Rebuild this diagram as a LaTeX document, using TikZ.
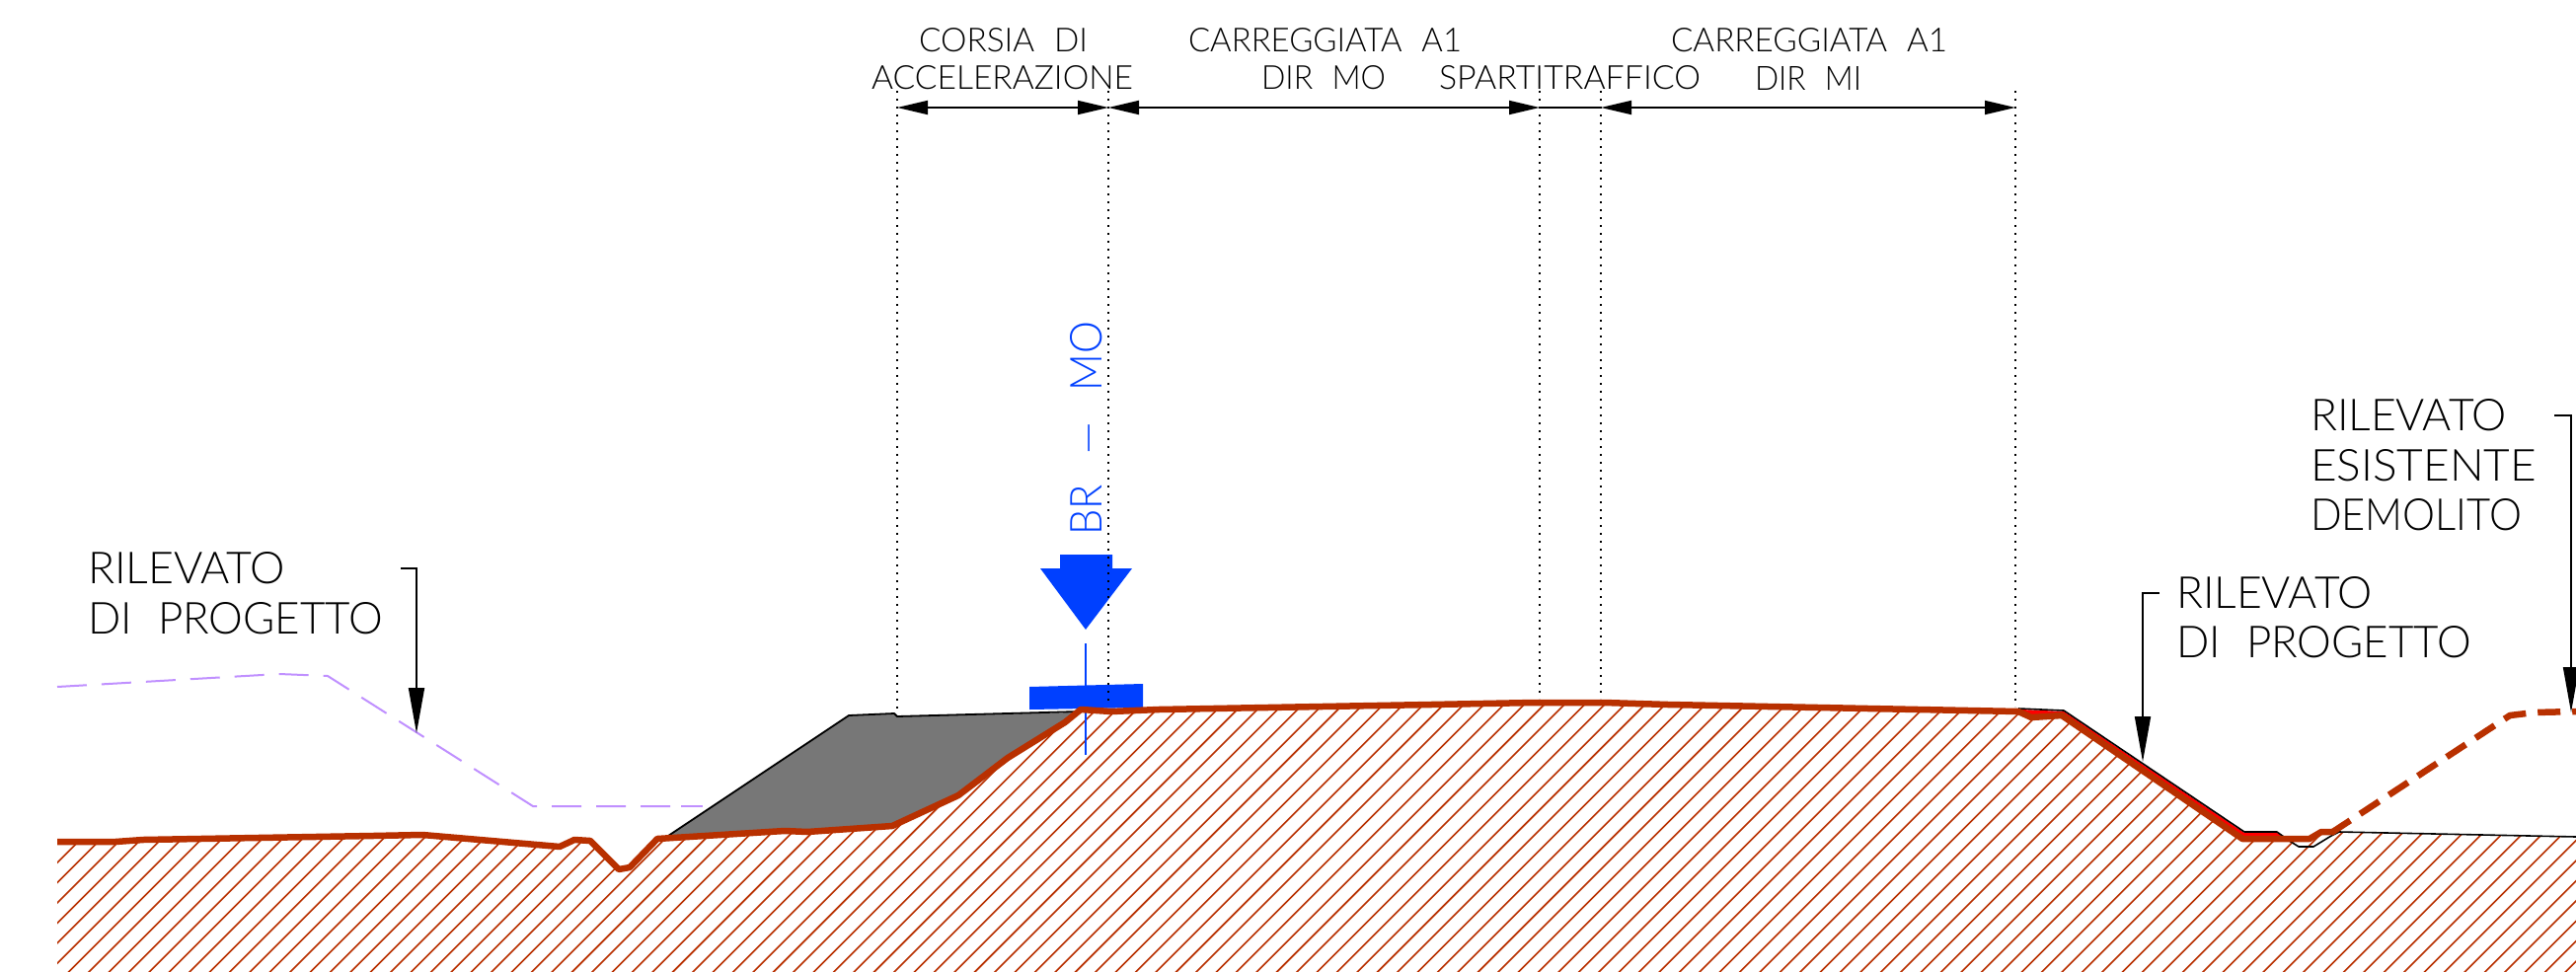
\documentclass[tikz,border=0pt]{standalone}
\usepackage{fontspec}
\usepackage{graphicx}
\usetikzlibrary{arrows.meta}
\newfontfamily\cadf{Lato Light}
\definecolor{soil}{HTML}{B83000}
\definecolor{bluemark}{HTML}{0040FF}
\definecolor{lilac}{HTML}{C090FF}
\definecolor{fillgray}{HTML}{777777}
\newcommand\cadtext[3]{\resizebox{#1pt}{#2pt}{\cadf #3}}
\newcommand\gap{\hspace{0.6em}}
\tikzset{
  lab/.style={anchor=south west,inner sep=0pt,outer sep=0pt,text=black},
  dimline/.style={line width=1.8pt,{Triangle[length=31pt,width=14pt]}-{Triangle[length=31pt,width=14pt]}},
  dimend/.style={line width=2.2pt,dash pattern=on 2.2pt off 5.8pt,line cap=butt},
  leader/.style={line width=1.8pt,-{Triangle[length=46pt,width=16pt]}},
  soilline/.style={soil,line width=6.5pt,line join=round},
  hatchline/.style={soil,line width=1.6pt},
}
\begin{document}
\begin{tikzpicture}[x=1pt,y=-1pt]
\useasboundingbox[fill=white] (0,0) rectangle (2610,985);
% hatching
\begin{scope}
\clip (58,853)--(117,853)--(145,851)--(378,847)--(428,846)--(567,858)--(582,851)--(598,852)--(627,881)--(638,879)--(666,850)--(795,842)--(818,843)--(904,837)--(971,806)--(1021,768)--(1079,732)--(1095,719)--(1126,721)--(1174,719)--(1450,714)--(1555,712)--(1625,712)--(1690,714)--(2045,721)--(2058,727)--(2089,725)--(2272,850)--(2340,850)--(2352,843)--(2370,843)--(2610,848)--(2610,985)--(58,985)--cycle;
\foreach \k in {0,...,146} {
  \pgfmathsetmacro\s{2095-1428+\k*20.4}
  \draw[hatchline] (\s-1000,1000)--(\s,0);
}
\end{scope}
% fill of the added embankment
\fill[fillgray] (677,847)--(860,725)--(906,723)--(909,726)--(1088,722)--(1095,719)--(1079,732)--(1021,768)--(971,806)--(904,837)--(818,843)--(795,842)--(666,850)--cycle;
\draw[black,line width=1.8pt,line join=round] (677,847)--(860,725)--(906,723)--(909,726)--(1095,721);
% design embankment, lilac
\draw[lilac,line width=2pt,dash pattern=on 30pt off 15pt] (58,696)--(283,683)--(332,685)--(540,817)--(690,817);
\draw[lilac,line width=2pt] (690,817)--(712,817);
% blue mark
\fill[bluemark] (1043,696)--(1158,693)--(1158,717)--(1043,719)--cycle;
\fill[bluemark] (1074,562)--(1127,562)--(1127,576)--(1147,576)--(1100,638)--(1054,576)--(1074,576)--cycle;
\coordinate (bluetop) at (1100,652);
\coordinate (bluebot) at (1100,765);
\draw[bluemark,line width=2.2pt] (bluetop)--(bluebot);
\node[anchor=south west,inner sep=0pt,text=bluemark,rotate=90] (brmo) at (1117,543) {\cadtext{217}{32}{BR\hspace{0.75em}—\hspace{0.75em}MO}};
% dimension extension lines
\coordinate (d1t) at (909,92);  \coordinate (d1b) at (909,718);
\coordinate (d2t) at (1123,92); \coordinate (d2b) at (1123,710);
\coordinate (d3t) at (1560,92); \coordinate (d3b) at (1560,708);
\coordinate (d4t) at (1622,92); \coordinate (d4b) at (1622,708);
\coordinate (d5t) at (2042,92); \coordinate (d5b) at (2042,716);
\foreach \n in {1,...,5} \draw[dimend] (d\n t)--(d\n b);
\coordinate (d1) at (909,109);
\coordinate (d2) at (1123,109);
\coordinate (d3) at (1560,109);
\coordinate (d4) at (1622,109);
\coordinate (d5) at (2042,109);
\draw[dimline] (d1)--(d2);
\draw[dimline] (d2)--(d3);
\draw[line width=1.8pt] (d3)--(d4);
\draw[dimline] (d4)--(d5);
% right side: red strip and existing profile
\fill[red] (2048,719)--(2091,721)--(2274,844)--(2307,844)--(2316,850)--(2272,850)--(2089,725)--(2058,727)--cycle;
\draw[black,line width=1.6pt,line join=round] (2045,718)--(2091,720)--(2274,843)--(2307,843)--(2321,853)--(2329,858)--(2344,858)--(2362,847)--(2370,843)--(2610,848);
% profile
\draw[soilline] (58,853)--(117,853)--(145,851)--(378,847)--(428,846)--(567,858)--(582,851)--(598,852)--(627,881)--(638,879)--(666,850)--(795,842)--(818,843)--(904,837)--(971,806)--(1021,768)--(1079,732)--(1095,719)--(1126,721)--(1174,719)--(1450,714)--(1555,712)--(1625,712)--(1690,714)--(2045,721)--(2058,727)--(2089,725)--(2272,850)--(2340,850)--(2352,843)--(2364,843);
\draw[soilline,dash pattern=on 23pt off 12pt] (2362,844)--(2543,725)--(2568,722)--(2610,721);
% leaders
\coordinate (la) at (406,576); \coordinate (lb) at (422,576); \coordinate (lc) at (422,743);
\draw[leader] (la)--(lb)--(lc);
\coordinate (ra) at (2188,601); \coordinate (rb) at (2171,601); \coordinate (rc) at (2171,772);
\draw[leader] (ra)--(rb)--(rc);
\coordinate (ea) at (2588,421); \coordinate (eb) at (2605,421); \coordinate (ec) at (2605,722);
\draw[leader] (ea)--(eb)--(ec);
% top labels
\node[lab] (t1) at (931,53) {\cadtext{171}{24}{CORSIA\gap DI}};
\node[lab] (t2) at (883,91) {\cadtext{265}{24}{ACCELERAZIONE}};
\node[lab] (t3) at (1204,53) {\cadtext{277}{24}{CARREGGIATA\gap A1}};
\node[lab] (t4) at (1278,91) {\cadtext{126}{24}{DIR\gap MO}};
\node[lab] (t5) at (1458,91) {\cadtext{265}{24}{SPARTITRAFFICO}};
\node[lab] (t6) at (1693,53) {\cadtext{280}{24}{CARREGGIATA\gap A1}};
\node[lab] (t7) at (1778,91) {\cadtext{108}{24}{DIR\gap MI}};
% side labels
\node[lab] (l1) at (89,592) {\cadtext{200}{32}{RILEVATO}};
\node[lab] (l2) at (89,643) {\cadtext{299}{32}{DI\gap PROGETTO}};
\node[lab] (r1) at (2205,617) {\cadtext{199}{32}{RILEVATO}};
\node[lab] (r2) at (2205,667) {\cadtext{299}{32}{DI\gap PROGETTO}};
\node[lab] (e1) at (2341,437) {\cadtext{199}{32}{RILEVATO}};
\node[lab] (e2) at (2341,488) {\cadtext{229}{32}{ESISTENTE}};
\node[lab] (e3) at (2341,538) {\cadtext{214}{32}{DEMOLITO}};
\end{tikzpicture}
\end{document}
